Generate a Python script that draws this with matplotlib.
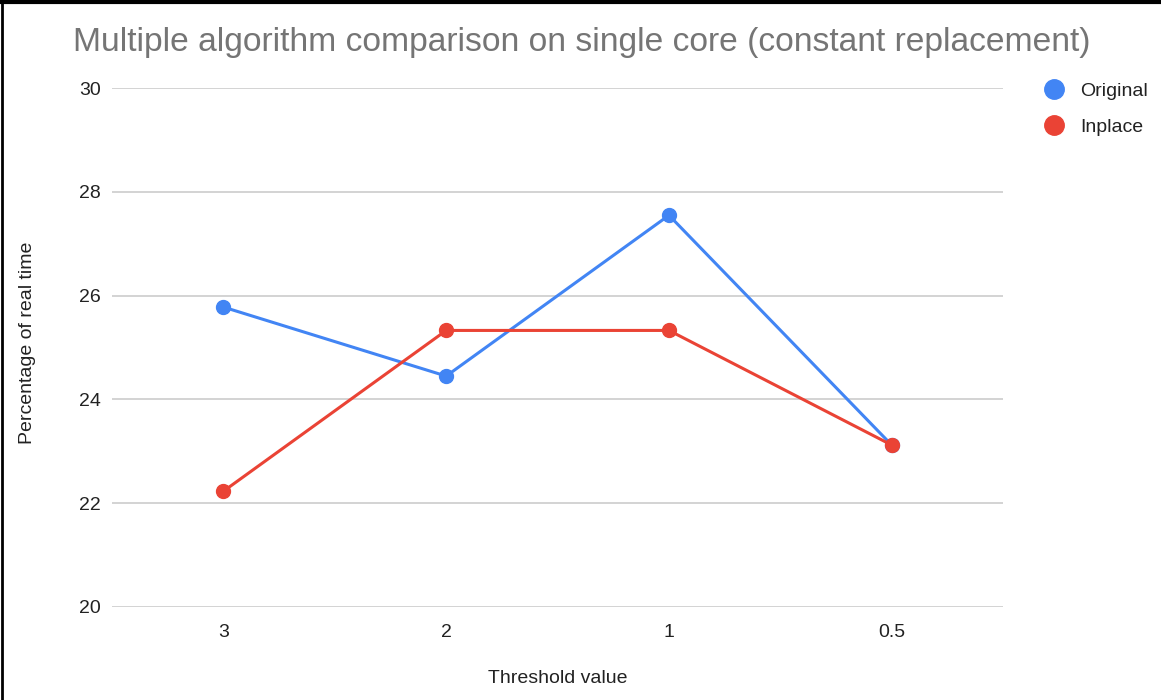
import matplotlib.pyplot as plt
from matplotlib.lines import Line2D

# Threshold categories and measured percentages
thresholds = ["3", "2", "1", "0.5"]
original = [25.78, 24.45, 27.55, 23.12]
inplace = [22.23, 25.33, 25.33, 23.12]

plt.rcParams['font.family'] = ['Liberation Sans', 'DejaVu Sans']

fig = plt.figure(figsize=(11.61, 7), dpi=100)
ax = fig.add_axes([0.0965, 0.133, 0.7675, 0.741])

x = list(range(len(thresholds)))
ax.plot(x, original, color='#4285f4', linewidth=2.2, marker='o', markersize=10,
        label='Original', zorder=3)
ax.plot(x, inplace, color='#ea4335', linewidth=2.2, marker='o', markersize=10,
        label='Inplace', zorder=3)

ax.set_xlim(-0.5, len(thresholds) - 0.5)
ax.set_ylim(20, 30)
ax.set_yticks([20, 22, 24, 26, 28, 30])
ax.set_xticks(x)
ax.set_xticklabels(thresholds)
ax.grid(axis='y', color='#cccccc', linewidth=1.2)
ax.set_axisbelow(True)
for s in ax.spines.values():
    s.set_visible(False)
ax.tick_params(axis='both', length=0, labelsize=14, colors='#222222')
ax.tick_params(axis='y', pad=8)
ax.tick_params(axis='x', pad=12)

# Axis titles placed in figure coordinates
fig.text(0.48, 0.031, 'Threshold value', ha='center', va='center',
         fontsize=14, color='#222222')
fig.text(0.024, 0.51, 'Percentage of real time', ha='center', va='center',
         rotation=90, fontsize=14, color='#222222')

fig.text(0.501, 0.94, 'Multiple algorithm comparison on single core (constant replacement)',
         ha='center', va='center', fontsize=24.2, color='#757575')

# Legend with plain dot markers
handles = [Line2D([], [], linestyle='none', marker='o', markersize=14, color='#4285f4'),
           Line2D([], [], linestyle='none', marker='o', markersize=14, color='#ea4335')]
fig.legend(handles, ['Original', 'Inplace'], loc='upper left',
           bbox_to_anchor=(0.876, 0.908), frameon=False, fontsize=14,
           handletextpad=0.35, labelspacing=0.95, labelcolor='#222222')

# Frame on top and left edges
fig.add_artist(Line2D([0, 1], [0.997, 0.997], color='black', linewidth=3,
                      transform=fig.transFigure))
fig.add_artist(Line2D([0.0015, 0.0015], [0, 1], color='black', linewidth=2,
                      transform=fig.transFigure))

plt.savefig('out.png', dpi=100)
